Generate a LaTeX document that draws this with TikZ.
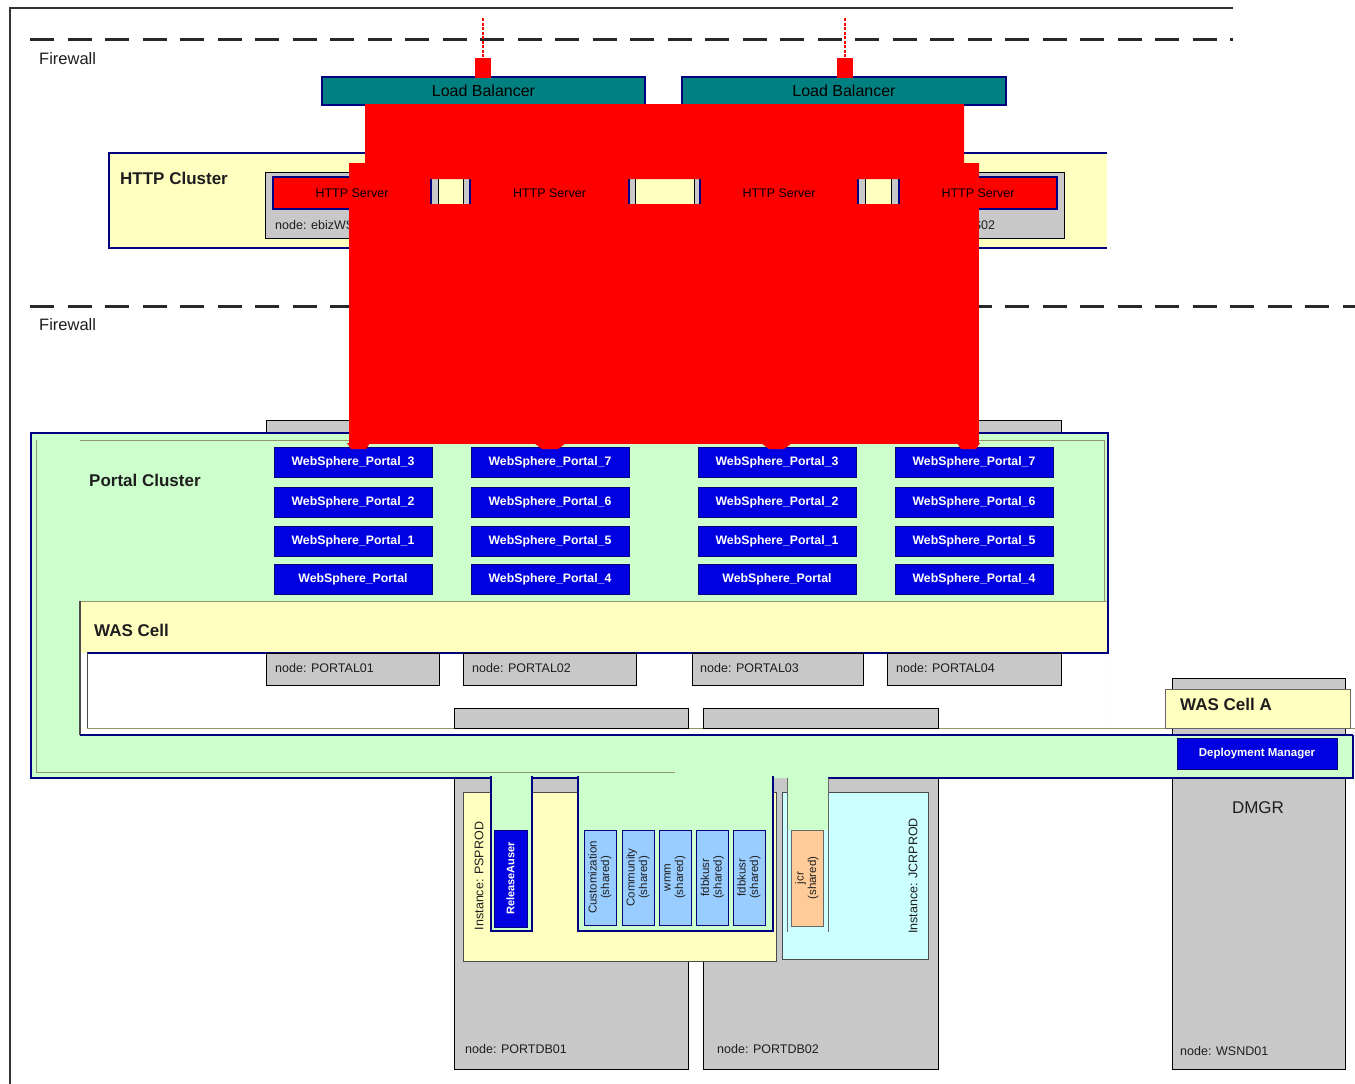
\documentclass[tikz,border=0pt]{standalone}
\usepackage{fontspec}
\setmainfont{Liberation Sans}
\definecolor{navyc}{RGB}{0,0,128}
\definecolor{tealc}{RGB}{0,128,128}
\definecolor{yel}{RGB}{255,255,192}
\definecolor{greyc}{RGB}{200,200,200}
\definecolor{grn}{RGB}{204,255,204}
\definecolor{wsblue}{RGB}{0,0,224}
\definecolor{ltblue}{RGB}{153,204,255}
\definecolor{orng}{RGB}{255,204,153}
\definecolor{cyn}{RGB}{204,255,255}
\definecolor{dashc}{RGB}{40,40,40}
\definecolor{olivec}{RGB}{150,150,110}
\definecolor{txt}{RGB}{30,30,30}
\tikzset{
  nw/.style={anchor=north west, inner sep=0pt, outer sep=0pt},
  lblfont/.style={font=\fontsize{16.5}{19}\selectfont, text=txt},
  grplbl/.style={font=\bfseries\fontsize{17}{20}\selectfont, text=txt, inner sep=0pt, anchor=west},
  lbbox/.style={nw, fill=tealc, draw=navyc, line width=1.2pt, font=\fontsize{16}{19}\selectfont, text=black},
  gbox/.style={nw, fill=greyc, draw=black, line width=1pt},
  srvbox/.style={nw, fill=red, draw=navyc, line width=1.2pt, font=\fontsize{12.5}{14}\selectfont, text=black, minimum height=32pt},
  wsbox/.style={nw, fill=wsblue, draw=navyc, line width=1pt, text=white, font=\bfseries\fontsize{12.3}{14}\selectfont, minimum width=158pt, minimum height=30pt},
  smlbl/.style={font=\fontsize{12.5}{14}\selectfont, text=txt, inner sep=0pt, anchor=west},
  vbox/.style={rotate=90, draw=navyc, line width=1pt, inner sep=0pt, align=center, font=\fontsize{11.5}{12.5}\selectfont, text=txt, minimum height=32pt},
  navyline/.style={draw=navyc, line width=1.2pt},
  oliveline/.style={draw=olivec, line width=1pt},
  reddash/.style={draw=red, line width=2pt, dash pattern=on 3pt off 1.5pt},
  fwdash/.style={draw=dashc, line width=3pt, dash pattern=on 24pt off 13.5pt}
}
\begin{document}
\begin{tikzpicture}[x=1pt,y=-1pt]
\useasboundingbox (0,0) rectangle (1355,1084);
\fill[white] (0,0) rectangle (1355,1084);

% outer frame
\draw[line width=2pt, black!80] (10,1084) -- (10,8) -- (1233,8);

% firewalls
\draw[fwdash] (30,39) -- (1233,39);
\node[lblfont, anchor=west, inner sep=0pt] (fw1) at (39,59) {Firewall};
\draw[fwdash] (30,306) -- (1355,306);
\node[lblfont, anchor=west, inner sep=0pt] (fw2) at (39,325) {Firewall};

% load balancers
\node[lbbox, minimum width=323pt, minimum height=28pt] (lb1) at (322,77) {Load Balancer};
\node[lbbox, minimum width=324pt, minimum height=28pt] (lb2) at (682,77) {Load Balancer};
\node[nw, fill=red, minimum width=16pt, minimum height=20pt] (rs1) at (475,58) {};
\node[nw, fill=red, minimum width=16pt, minimum height=20pt] (rs2) at (837,58) {};
\coordinate (in1) at (483,18);
\coordinate (in2) at (845,18);
\draw[reddash] (in1) -- (rs1.north);
\draw[reddash] (in2) -- (rs2.north);

% HTTP cluster
\node[nw, fill=yel, minimum width=998pt, minimum height=95pt] (httpc) at (109,153) {};
\draw[navyline] (httpc.north east) -- (httpc.north west) -- (httpc.south west) -- (httpc.south east);
\node[grplbl] (httpcl) at (120,178) {HTTP Cluster};
\node[gbox, minimum width=173pt, minimum height=66pt] (hn1) at (265,172) {};
\node[gbox, minimum width=172pt, minimum height=66pt] (hn2) at (463,172) {};
\node[gbox, minimum width=171pt, minimum height=66pt] (hn3) at (694,172) {};
\node[gbox, minimum width=173pt, minimum height=66pt] (hn4) at (891,172) {};
\node[srvbox, minimum width=158pt] (hs1) at (273,177) {HTTP Server};
\node[srvbox, minimum width=159pt] (hs2) at (470,177) {HTTP Server};
\node[srvbox, minimum width=158pt] (hs3) at (700,177) {HTTP Server};
\node[srvbox, minimum width=158pt] (hs4) at (899,177) {HTTP Server};
\node[smlbl] (hn1l) at (275,225) {node: ebizWS01};
\node[smlbl] (hn4l) at (902,225) {node: ebizWS02};

% portal nodes (full boxes, mostly covered)
\node[gbox, minimum width=173pt, minimum height=265pt] (pn1) at (266,420) {};
\node[gbox, minimum width=173pt, minimum height=265pt] (pn2) at (463,420) {};
\node[gbox, minimum width=171pt, minimum height=265pt] (pn3) at (692,420) {};
\node[gbox, minimum width=174pt, minimum height=265pt] (pn4) at (887,420) {};

% DB nodes and DMGR node
\node[gbox, minimum width=234pt, minimum height=361pt] (db1) at (454,708) {};
\node[gbox, minimum width=235pt, minimum height=361pt] (db2) at (703,708) {};
\node[gbox, minimum width=173pt, minimum height=391pt] (dmgr) at (1172,678) {};
\node[font=\fontsize{17}{20}\selectfont, text=txt] (dmgrl) at (1258,808) {DMGR};
\node[smlbl] (db1l) at (465,1049) {node: PORTDB01};
\node[smlbl] (db2l) at (717,1049) {node: PORTDB02};
\node[smlbl] (dmgrn) at (1180,1051) {node: WSND01};

% instances
\node[nw, fill=yel, draw=black!70, line width=1pt, minimum width=313pt, minimum height=169pt] (psprod) at (463,792) {};
\node[nw, fill=cyn, draw=black!70, line width=1pt, minimum width=146pt, minimum height=167pt] (jcrprod) at (782,792) {};
\node[rotate=90, font=\fontsize{12.5}{14}\selectfont, text=txt, inner sep=0pt] (pspl) at (479,876) {Instance: PSPROD};
\node[rotate=90, font=\fontsize{12.5}{14}\selectfont, text=txt, inner sep=0pt] (jcrl) at (913,876) {Instance: JCRPROD};

% portal cluster (green)
\fill[grn] (31,433) -- (1108,433) -- (1108,735) -- (1353,735) -- (1353,778) -- (31,778) -- cycle;
\node[nw, fill=grn, minimum width=41pt, minimum height=155pt] (ch1) at (491,776) {};
\node[nw, fill=grn, minimum width=195pt, minimum height=155pt] (ch2) at (578,776) {};
\node[nw, fill=grn, minimum width=41pt, minimum height=54pt] (ch3) at (787,776) {};
\draw[navyline] (1108,653) -- (1108,433) -- (31,433) -- (31,778) -- (491,778);
\draw[navyline] (532,778) -- (578,778);
\draw[navyline] (828,778) -- (1353,778) -- (1353,735);
\draw[navyline] (ch1.north west) -- (ch1.south west) -- (ch1.south east) -- (ch1.north east);
\draw[navyline] (ch2.north west) -- (ch2.south west) -- (ch2.south east) -- (ch2.north east);
\draw[draw=black!60, line width=1pt] (787,778) -- (787,932);
\draw[draw=black!60, line width=1pt] (828,778) -- (828,932);
\draw[oliveline] (80,440) -- (1104,440) -- (1104,601);
\draw[oliveline] (36,440) -- (36,772) -- (675,772);
\node[grplbl] (pcl) at (89,480) {Portal Cluster};

% websphere portal servers
\foreach \c/\x in {1/274,2/471,3/698,4/895}{
  \foreach \r/\y in {1/447,2/487,3/526,4/564}{
    \node[wsbox] (ws\c\r) at (\x,\y) {};
  }
}
\foreach \c in {1,3}{
  \node at (ws\c1) [text=white, font=\bfseries\fontsize{12.3}{14}\selectfont] (t\c1) {WebSphere\_Portal\_3};
  \node at (ws\c2) [text=white, font=\bfseries\fontsize{12.3}{14}\selectfont] (t\c2) {WebSphere\_Portal\_2};
  \node at (ws\c3) [text=white, font=\bfseries\fontsize{12.3}{14}\selectfont] (t\c3) {WebSphere\_Portal\_1};
  \node at (ws\c4) [text=white, font=\bfseries\fontsize{12.3}{14}\selectfont] (t\c4) {WebSphere\_Portal};
}
\foreach \c in {2,4}{
  \node at (ws\c1) [text=white, font=\bfseries\fontsize{12.3}{14}\selectfont] (t\c1) {WebSphere\_Portal\_7};
  \node at (ws\c2) [text=white, font=\bfseries\fontsize{12.3}{14}\selectfont] (t\c2) {WebSphere\_Portal\_6};
  \node at (ws\c3) [text=white, font=\bfseries\fontsize{12.3}{14}\selectfont] (t\c3) {WebSphere\_Portal\_5};
  \node at (ws\c4) [text=white, font=\bfseries\fontsize{12.3}{14}\selectfont] (t\c4) {WebSphere\_Portal\_4};
}

% WAS cell
\node[nw, fill=white, minimum width=1028pt, minimum height=82pt] (wasbody) at (80,653) {};
\node[nw, fill=yel, minimum width=1028pt, minimum height=52pt] (washead) at (80,601) {};
\draw[oliveline] (washead.north west) -- (washead.north east);
\draw[navyline] (washead.north east) -- (washead.south east) -- (87,653);
\draw[draw=black!70, line width=1.2pt] (80,601) -- (80,735);
\draw[draw=black!70, line width=1pt] (87,653) -- (87,728);
\draw[oliveline] (87,728) -- (1355,728);
\draw[navyline] (80,735) -- (1353,735);
\node[grplbl] (wascl) at (94,630) {WAS Cell};

% visible lower parts of portal nodes
\node[gbox, minimum width=173pt, minimum height=32pt] (pb1) at (266,653) {};
\node[gbox, minimum width=173pt, minimum height=32pt] (pb2) at (463,653) {};
\node[gbox, minimum width=171pt, minimum height=32pt] (pb3) at (692,653) {};
\node[gbox, minimum width=174pt, minimum height=32pt] (pb4) at (887,653) {};
\node[smlbl] (pl1) at (275,668) {node: PORTAL01};
\node[smlbl] (pl2) at (472,668) {node: PORTAL02};
\node[smlbl] (pl3) at (700,668) {node: PORTAL03};
\node[smlbl] (pl4) at (896,668) {node: PORTAL04};

% visible tops of DB nodes
\node[gbox, minimum width=234pt, minimum height=20pt] (dbt1) at (454,708) {};
\node[gbox, minimum width=235pt, minimum height=20pt] (dbt2) at (703,708) {};

% WAS cell A
\node[gbox, minimum width=173pt, minimum height=11pt] (dmgrt) at (1172,678) {};
\node[nw, fill=yel, draw=black!60, line width=1pt, minimum width=185pt, minimum height=39pt] (wasa) at (1165,689) {};
\node[grplbl] (wasal) at (1180,704) {WAS Cell A};
\node[wsbox, minimum width=160pt, minimum height=31pt, font=\bfseries\fontsize{11.5}{14}\selectfont] (depm) at (1177,738) {Deployment Manager};

% database boxes
\node[vbox, fill=wsblue, text=white, font=\bfseries\fontsize{11}{13}\selectfont, minimum width=97pt, minimum height=33pt] (rel) at (510.5,878.5) {ReleaseAuser};
\node[vbox, fill=ltblue, minimum width=95pt] (cust) at (600,877.5) {Customization\\(shared)};
\node[vbox, fill=ltblue, minimum width=95pt] (comm) at (638,877.5) {Community\\(shared)};
\node[vbox, fill=ltblue, minimum width=95pt] (wmm) at (675,877.5) {wmm\\(shared)};
\node[vbox, fill=ltblue, minimum width=95pt] (fdb1) at (712.5,877.5) {fdbkusr\\(shared)};
\node[vbox, fill=ltblue, minimum width=95pt] (fdb2) at (749,877.5) {fdbkusr\\(shared)};
\node[vbox, fill=orng, draw=black!60, minimum width=96pt] (jcr) at (807,878) {jcr\\(shared)};

% red overlay
\fill[red] (365,104) -- (964,104) -- (964,163) -- (979,163) -- (979,179) -- (349,179) -- (349,163) -- (365,163) -- cycle;
\fill[red] (349,204) rectangle (979,444);
\fill[red] (347,443) -- (370,443) -- (366,449) -- (351,449) -- cycle;
\fill[red] (534,443) -- (566,443) -- (558,449) -- (542,449) -- cycle;
\fill[red] (761,443) -- (792,443) -- (784,449) -- (769,449) -- cycle;
\fill[red] (957,443) -- (980,443) -- (976,449) -- (961,449) -- cycle;
\end{tikzpicture}
\end{document}
